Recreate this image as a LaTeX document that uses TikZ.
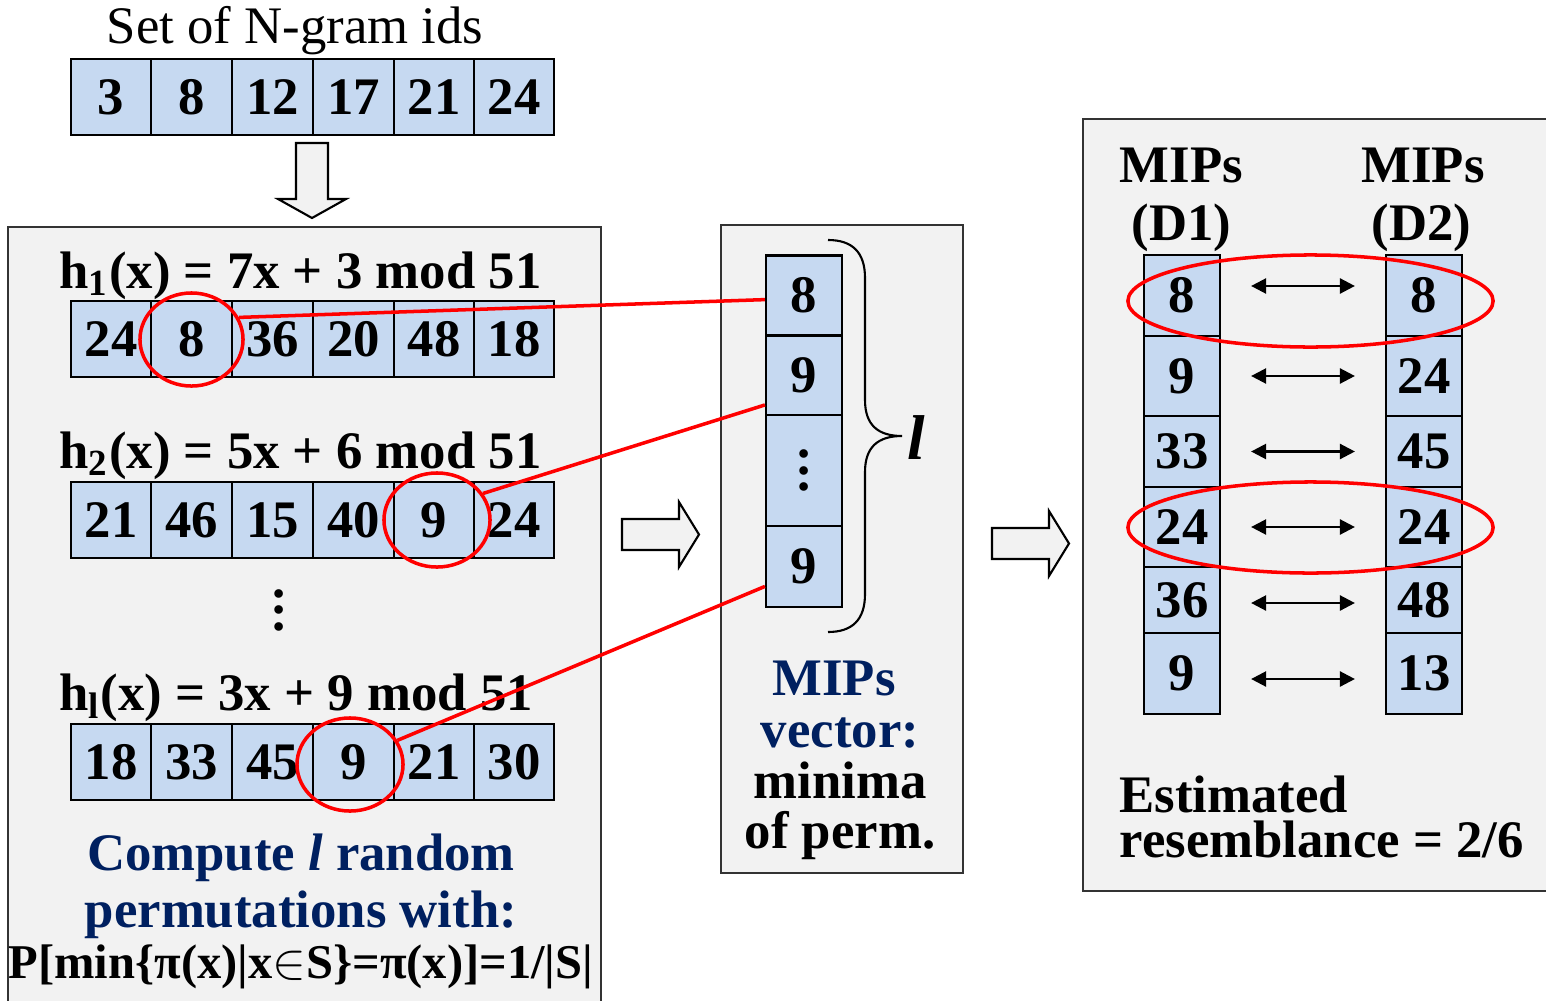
\documentclass[tikz,border=0pt]{standalone}
\usepackage{fontspec}
\setmainfont{Liberation Serif}
\usetikzlibrary{shapes.geometric,arrows.meta}

\definecolor{cellblue}{RGB}{198,217,241}
\definecolor{panelgray}{RGB}{242,242,242}
\definecolor{navy}{RGB}{0,32,96}
\definecolor{hitred}{RGB}{255,0,0}

\newcommand{\vdotsstack}{\vbox{\baselineskip=0.165cm\lineskiplimit=0pt\hbox{.}\hbox{.}\hbox{.}}}

\begin{document}
\begin{tikzpicture}[
	x=0.01cm, y=-0.01cm,
	every node/.style={font=\fontsize{15}{17}\selectfont\bfseries},
	panel/.style={
		draw=black!80, fill=panelgray,
		line width=0.6pt, inner sep=0
	},
	cell/.style={
		draw, fill=cellblue,
		line width=0.6pt, inner sep=0,
		minimum width=0.805cm,
		minimum height=0.76cm
	},
	mipcell/.style={cell, minimum width=0.76cm},
	ring/.style={draw=hitred, ellipse, line width=1pt, inner sep=0},
	hit/.style={draw=hitred, line width=1pt},
	fatarrow/.style={draw, fill=panelgray, line width=0.6pt},
	pair/.style={
		<->, >={Triangle[length=4.3pt,width=4.3pt]},
		line width=0.7pt,
		shorten <=0.3cm, shorten >=0.3cm
	}
	]
	\useasboundingbox (0,0) rectangle (1546,1000);
	
	% panels
	\node[panel, minimum width=5.93cm, minimum height=7.77cm] (permbox) at (304.5,615.5) {};
	\node[panel, minimum width=2.42cm, minimum height=6.48cm] (mipbox)  at (842,549) {};
	\node[panel, minimum width=4.67cm, minimum height=7.72cm] (cmpbox)  at (1316.5,505) {};
	
	% input set
	\node[font=\fontsize{15}{17}\selectfont, anchor=base] (title) at (295,44) {Set of N-gram ids};
	\node[cell] (t1) at (111,97)   {3};
	\node[cell] (t2) at (191.5,97) {8};
	\node[cell] (t3) at (272.5,97) {12};
	\node[cell] (t4) at (353.5,97) {17};
	\node[cell] (t5) at (434,97)   {21};
	\node[cell] (t6) at (514,97)   {24};
	
	\draw[fatarrow] (296,143) -- (328,143) -- (328,199) -- (346,199) -- (312,218) -- (278,199) -- (296,199) -- cycle;
	
	% permutations
	\node[anchor=base] (eqa) at (300.5,288) {h\textsubscript{1}(x) = 7x + 3 mod 51};
	\node[cell] (a1) at (111,339)   {24};
	\node[cell] (a2) at (191.5,339) {8};
	\node[cell] (a3) at (272.5,339) {36};
	\node[cell] (a4) at (353.5,339) {20};
	\node[cell] (a5) at (434,339)   {48};
	\node[cell] (a6) at (514,339)   {18};
	
	\node[anchor=base] (eqb) at (300.5,468) {h\textsubscript{2}(x) = 5x + 6 mod 51};
	\node[cell] (b1) at (111,520)   {21};
	\node[cell] (b2) at (191.5,520) {46};
	\node[cell] (b3) at (272.5,520) {15};
	\node[cell] (b4) at (353.5,520) {40};
	\node[cell] (b5) at (434,520)   {9};
	\node[cell] (b6) at (514,520)   {24};
	
	\node (skip) at (279,610) {\vdotsstack};
	
	\node[anchor=base] (eqc) at (296,710) {h\textsubscript{l}(x) = 3x + 9 mod 51};
	\node[cell] (c1) at (111,762)   {18};
	\node[cell] (c2) at (191.5,762) {33};
	\node[cell] (c3) at (272.5,762) {45};
	\node[cell] (c4) at (353.5,762) {9};
	\node[cell] (c5) at (434,762)   {21};
	\node[cell] (c6) at (514,762)   {30};
	
	\node[anchor=base, text=navy] (compa) at (301,870) {Compute \textit{l} random};
	\node[anchor=base, text=navy] (compb) at (301,927) {permutations with:};
	\node[anchor=base, inner sep=0, font=\fontsize{13.8}{15}\selectfont\bfseries] (prob) at (301,978) {P[min\{π(x)|x$\in$S\}=π(x)]=1/|S|};
	
	\draw[fatarrow] (622,519) -- (679,519) -- (679,502) -- (699,534.5) -- (679,567) -- (679,550) -- (622,550) -- cycle;
	
	% MIPs vector
	\node[mipcell, minimum height=0.80cm] (m1) at (804,295.5) {8};
	\node[mipcell, minimum height=0.80cm] (m2) at (804,375.5) {9};
	\node[mipcell, minimum height=1.11cm] (m3) at (804,470.5) {\vdotsstack};
	\node[mipcell, minimum height=0.81cm] (m4) at (804,566.5) {9};
	
	\draw[line width=0.6pt] (828,240) .. controls (852,240) and (865,252) .. (865,278) -- (865,400)
		.. controls (865,425) and (878,436) .. (902,436)
		.. controls (878,436) and (865,447) .. (865,472) -- (865,594)
		.. controls (865,620) and (852,632) .. (828,632);
	\node[font=\fontsize{18}{20}\selectfont\bfseries\itshape] (len) at (916,438) {l};
	
	\node[anchor=base, text=navy] (mipa) at (834,695) {MIPs};
	\node[anchor=base, text=navy] (mipb) at (840,747) {vector:};
	\node[anchor=base] (mipc) at (840,798) {minima};
	\node[anchor=base] (mipd) at (840,848) {of perm.};
	
	\draw[fatarrow] (992,528) -- (1049,528) -- (1049,511) -- (1069,543.5) -- (1049,576) -- (1049,559) -- (992,559) -- cycle;
	
	% comparison
	\node[anchor=base] (hda) at (1181.5,182) {MIPs};
	\node[anchor=base] (hdb) at (1181.5,240) {(D1)};
	\node[anchor=base] (hdc) at (1423,182)   {MIPs};
	\node[anchor=base] (hdd) at (1421.5,240) {(D2)};
	
	\node[mipcell, minimum height=0.81cm] (p1) at (1182,295.5) {8};
	\node[mipcell, minimum height=0.80cm] (p2) at (1182,376)   {9};
	\node[mipcell, minimum height=0.71cm] (p3) at (1182,451.5) {33};
	\node[mipcell, minimum height=0.80cm] (p4) at (1182,527)   {24};
	\node[mipcell, minimum height=0.66cm] (p5) at (1182,600)   {36};
	\node[mipcell, minimum height=0.81cm] (p6) at (1182,673.5) {9};
	
	\node[mipcell, minimum height=0.81cm] (q1) at (1424,295.5) {8};
	\node[mipcell, minimum height=0.80cm] (q2) at (1424,376)   {24};
	\node[mipcell, minimum height=0.71cm] (q3) at (1424,451.5) {45};
	\node[mipcell, minimum height=0.80cm] (q4) at (1424,527)   {24};
	\node[mipcell, minimum height=0.66cm] (q5) at (1424,600)   {48};
	\node[mipcell, minimum height=0.81cm] (q6) at (1424,673.5) {13};
	
	\draw[pair] ([yshift=0.095cm]p1.east) -- ([yshift=0.095cm]q1.west);
	\draw[pair] (p2.east) -- (q2.west);
	\draw[pair] (p3.east) -- (q3.west);
	\draw[pair] (p4.east) -- (q4.west);
	\draw[pair] ([yshift=-0.03cm]p5.east) -- ([yshift=-0.03cm]q5.west);
	\draw[pair] ([yshift=-0.055cm]p6.east) -- ([yshift=-0.055cm]q6.west);
	
	\node[anchor=base west, inner sep=0] (esta) at (1119,812) {Estimated};
	\node[anchor=base west, inner sep=0] (estb) at (1119,857) {resemblance = 2/6};
	
	% minima
	\node[ring, minimum width=1.03cm, minimum height=0.93cm] (o1) at (191.5,339.5) {};
	\node[ring, minimum width=1.06cm, minimum height=0.94cm] (o2) at (437,520) {};
	\node[ring, minimum width=1.06cm, minimum height=0.93cm] (o3) at (350,764.5) {};
	\node[ring, minimum width=3.65cm, minimum height=0.92cm] (e1) at (1310.5,301) {};
	\node[ring, minimum width=3.65cm, minimum height=0.91cm] (e2) at (1310.5,527.5) {};
	
	\draw[hit] (o1.25) -- (m1.186);
	\draw[hit] (o2.30) -- (m2.217);
	\draw[hit] (o3.27) -- (m4.207);
	
\end{tikzpicture}
\end{document}
